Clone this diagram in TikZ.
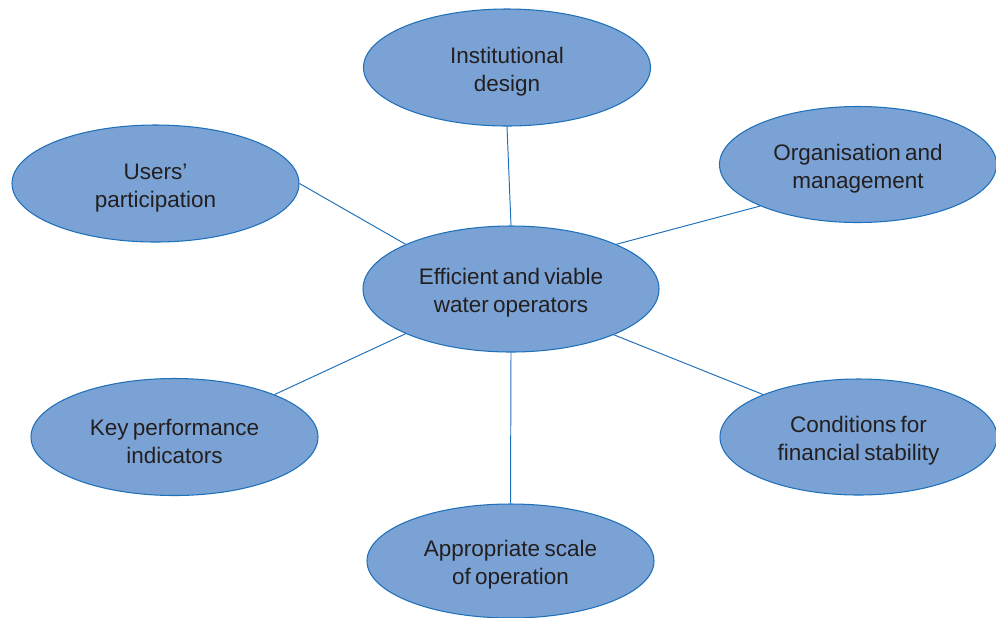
\documentclass[tikz,border=0pt]{standalone}
\usepackage{fontspec}
\setmainfont{Liberation Sans}
\usepackage{tikz}
\usetikzlibrary{arrows}
\usetikzlibrary{shapes.geometric}
\definecolor{bubblefill}{RGB}{123,162,212}
\definecolor{bubbleline}{RGB}{30,112,186}
\definecolor{labeltext}{RGB}{35,31,32}
\newcommand{\bubblefont}{\fontsize{12.8}{15.9}\selectfont\spaceskip=0.19em\relax}
\newcommand{\bubblestrut}{\rule{0pt}{13.8pt}}
\tikzstyle{topic}=[ellipse,draw=bubbleline,line width=0.6pt,fill=bubblefill,inner sep=0pt,align=center,text=labeltext,font=\bubblefont,minimum width=5.74cm,minimum height=2.34cm]
\tikzstyle{link} = [draw,line width=0.55pt,bubbleline,-]

\begin{document}
\begin{tikzpicture}
		[scale=1,auto=left, hub/.style={topic,minimum width=5.92cm,minimum height=2.52cm}]
		\useasboundingbox (0,0) rectangle (19.92,-12.34);
		\node[hub] (core) at (10.22,-5.78) {\bubblestrut Efficient and viable\\water operators};
		\node[topic] (inst) at (10.14,-1.35) {\bubblestrut Institutional\\design};
		\node[topic] (users) at (3.11,-3.67) {\bubblestrut Users'\\participation};
		\node[topic,minimum width=5.54cm,minimum height=2.32cm] (org) at (17.16,-3.29) {\bubblestrut Organisation and\\management};
		\node[topic] (kpi) at (3.49,-8.74) {\bubblestrut Key performance\\indicators};
		\node[topic,minimum width=5.54cm,minimum height=2.32cm] (fin) at (17.17,-8.74) {\bubblestrut Conditions for\\financial stability};
		\node[topic,minimum height=2.28cm] (scale) at (10.21,-11.22) {\bubblestrut Appropriate scale\\of operation};
		
		\draw[link] (users.east) to (core.157);
		\draw[link] (inst.south) to (core.north);
		\draw[link] (org.203) to (core.23);
		\draw[link] (kpi.23) to (core.203.5);
		\draw[link] (fin.156.5) to (core.336.5);
		\draw[link] (scale.north) to (core.south);
		
		\end{tikzpicture}
\end{document}
